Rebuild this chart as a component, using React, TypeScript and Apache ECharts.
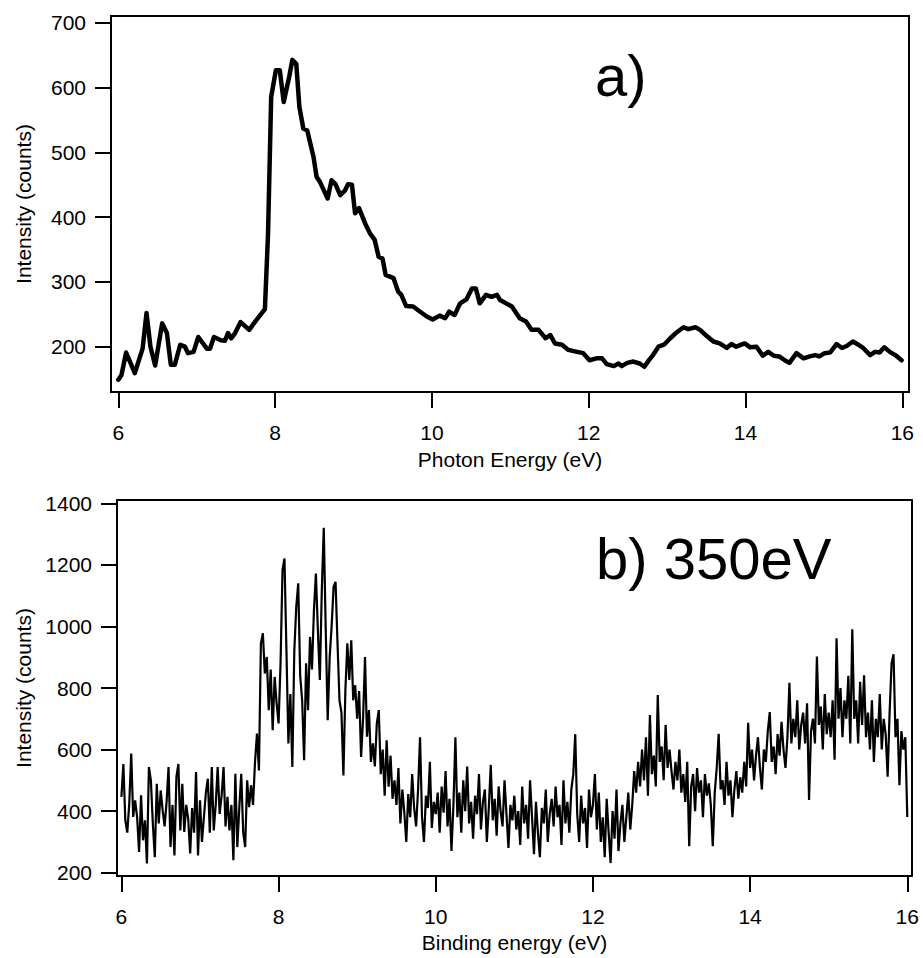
import React, { useEffect, useRef } from "react";
import * as echarts from "echarts";

const topEnergy = [
  6.0, 6.04, 6.1, 6.21, 6.31, 6.36, 6.41, 6.47, 6.56, 6.62, 6.67, 6.72, 6.79, 6.85, 6.89, 6.96,
  7.02, 7.13, 7.17, 7.22, 7.31, 7.36, 7.4, 7.44, 7.49, 7.56, 7.67, 7.76, 7.87, 7.91, 7.95,
  8.01, 8.06, 8.11, 8.18, 8.22, 8.27, 8.31, 8.36, 8.41, 8.49, 8.53, 8.57, 8.67, 8.72, 8.77, 8.83,
  8.89, 8.93, 8.98, 9.02, 9.07, 9.15, 9.21, 9.27, 9.32, 9.37, 9.41, 9.51, 9.57, 9.61, 9.67, 9.76,
  9.85, 9.93, 10.01, 10.1, 10.17, 10.22, 10.29, 10.36, 10.44, 10.51, 10.56, 10.61, 10.69, 10.76,
  10.83, 10.87, 11.02, 11.12, 11.2, 11.27, 11.36, 11.45, 11.51, 11.57, 11.66, 11.74, 11.85, 11.93,
  12.01, 12.1, 12.17, 12.23, 12.32, 12.38, 12.42, 12.49, 12.57, 12.65, 12.71, 12.76, 12.82, 12.89,
  12.96, 13.04, 13.12, 13.21, 13.27, 13.36, 13.42, 13.51, 13.59, 13.67, 13.76, 13.82, 13.88, 13.99,
  14.06, 14.14, 14.22, 14.29, 14.36, 14.43, 14.5, 14.56, 14.65, 14.74, 14.82, 14.89, 14.94, 15.01,
  15.08, 15.16, 15.23, 15.29, 15.37, 15.44, 15.5, 15.59, 15.65, 15.71, 15.77, 15.84, 15.91, 15.99,
];
const topIntensity = [
  149, 156, 191, 159, 197, 252, 200, 171, 236, 221, 172, 172, 203, 200, 190, 192,
  215, 197, 197, 215, 210, 209, 221, 213, 221, 238, 226, 241, 258, 375, 586,
  627, 627, 578, 617, 643, 637, 570, 537, 534, 493, 462, 455, 429, 457, 451, 434,
  441, 451, 450, 406, 414, 390, 375, 365, 339, 336, 311, 306, 285, 280, 263, 262,
  254, 247, 242, 248, 244, 254, 249, 267, 273, 290, 290, 267, 280, 277,
  280, 272, 262, 244, 239, 226, 226, 213, 218, 205, 203, 195, 192, 190,
  179, 182, 182, 173, 170, 174, 170, 175, 177, 174, 169, 178, 187, 200,
  203, 213, 222, 230, 227, 230, 226, 216, 208, 205, 198, 204, 200, 205,
  199, 200, 186, 192, 186, 185, 179, 175, 190, 182, 185, 187, 185, 190,
  191, 204, 198, 201, 208, 203, 198, 187, 192, 191, 199, 192, 187, 179,
];

const bottomStart = 6;
const bottomStep = 0.025;
const bottomIntensity = [
  446, 553, 370, 330, 424, 587, 381, 435, 380, 267, 451, 305, 370, 230, 543, 500, 360, 250, 489, 360,
  467, 402, 350, 430, 543, 283, 420, 256, 511, 553, 337, 489, 332, 420, 375, 262, 410, 330, 527, 256,
  435, 300, 380, 460, 505, 330, 543, 337, 420, 543, 391, 450, 543, 350, 446, 337, 420, 240, 521, 283,
  410, 521, 330, 283, 500, 413, 484, 420, 559, 652, 532, 945, 978, 847, 901, 728, 860, 663, 836, 750,
  685, 880, 1183, 1221, 923, 620, 780, 543, 920, 1064, 1140, 840, 760, 565, 880, 728, 966, 860, 1053, 1172,
  988, 826, 1118, 1321, 990, 695, 900, 1000, 1129, 1145, 945, 760, 720, 516, 793, 945, 826, 955, 760, 809,
  700, 790, 576, 700, 901, 642, 728, 560, 620, 545, 685, 728, 520, 600, 450, 630, 479, 580, 440, 500,
  420, 540, 360, 470, 395, 300, 455, 380, 520, 410, 350, 470, 640, 380, 300, 450, 410, 560, 345, 430,
  390, 460, 330, 480, 395, 530, 350, 440, 270, 420, 640, 380, 460, 330, 500, 400, 545, 360, 430, 310,
  450, 390, 520, 340, 430, 470, 300, 410, 550, 370, 440, 320, 480, 400, 350, 500, 390, 280, 420, 370,
  450, 340, 400, 290, 480, 360, 420, 310, 500, 380, 260, 430, 330, 250, 410, 360, 470, 300, 390, 440,
  350, 480, 380, 420, 290, 500, 360, 430, 330, 470, 520, 650, 390, 300, 450, 360, 410, 280, 470, 380,
  420, 520, 340, 460, 300, 380, 250, 440, 330, 231, 400, 310, 470, 270, 360, 420, 300, 380, 460, 340,
  420, 530, 460, 560, 480, 600, 500, 640, 450, 712, 520, 580, 480, 777, 560, 610, 500, 680, 540, 600,
  530, 470, 560, 500, 600, 460, 520, 430, 560, 286, 480, 520, 400, 540, 460, 500, 380, 520, 450, 490,
  420, 286, 460, 540, 651, 470, 500, 420, 560, 450, 500, 380, 470, 530, 440, 510, 460, 560, 480, 687,
  540, 600, 500, 580, 640, 540, 470, 600, 560, 660, 722, 560, 610, 520, 650, 580, 690, 600, 540, 640,
  817, 620, 700, 640, 760, 600, 680, 720, 620, 750, 436, 660, 700, 620, 902, 680, 740, 600, 780, 650,
  720, 640, 760, 567, 962, 700, 800, 640, 760, 700, 840, 620, 991, 700, 760, 620, 820, 680, 841, 640,
  720, 600, 760, 560, 700, 640, 780, 600, 700, 650, 512, 720, 880, 910, 640, 700, 484, 660, 600, 640,
  381,
];

const xTicks = [6, 8, 10, 12, 14, 16];
const topYTicks = [200, 300, 400, 500, 600, 700];
const bottomYTicks = [200, 400, 600, 800, 1000, 1200, 1400];

const FONT = "Liberation Sans, Arial, sans-serif";
const TICK_FS = 21;
const plain = (v: number) => String(v);

function xAxisCfg(gridIndex: number, min: number, max: number, name: string, nameGap: number) {
  return {
    type: "value",
    gridIndex,
    min,
    max,
    name,
    nameLocation: "middle",
    nameGap,
    nameTextStyle: { fontFamily: FONT, fontSize: 21, color: "#000" },
    axisLine: { show: true, onZero: false, lineStyle: { color: "#000", width: 2 } },
    axisTick: { show: true, inside: false, length: 16, customValues: xTicks, lineStyle: { color: "#000", width: 2 } },
    axisLabel: { show: true, customValues: xTicks, formatter: plain, margin: 30, fontFamily: FONT, fontSize: TICK_FS, color: "#000" },
    splitLine: { show: false },
  };
}

function yAxisCfg(gridIndex: number, min: number, max: number, ticks: number[], nameGap: number) {
  return {
    type: "value",
    gridIndex,
    min,
    max,
    name: "Intensity (counts)",
    nameLocation: "middle",
    nameRotate: 90,
    nameGap,
    nameTextStyle: { fontFamily: FONT, fontSize: 21, color: "#000" },
    axisLine: { show: true, onZero: false, lineStyle: { color: "#000", width: 2 } },
    axisTick: { show: true, inside: false, length: 16, customValues: ticks, lineStyle: { color: "#000", width: 2 } },
    axisLabel: { show: true, customValues: ticks, formatter: plain, margin: 25, fontFamily: FONT, fontSize: TICK_FS, color: "#000" },
    splitLine: { show: false },
  };
}

export default function App() {
  const ref = useRef<HTMLDivElement>(null);
  useEffect(() => {
    document.body.style.margin = "0";
    const chart = echarts.init(ref.current!, null, { renderer: "svg" });
    const topData = topEnergy.map((e, i) => [e, topIntensity[i]]);
    const bottomData = bottomIntensity.map((v, i) => [bottomStart + i * bottomStep, v]);
    chart.setOption({
      animation: false,
      backgroundColor: "#fff",
      grid: [
        { left: 111, top: 16, width: 798, height: 376, show: true, borderColor: "#000", borderWidth: 2, backgroundColor: "transparent" },
        { left: 117, top: 500, width: 795, height: 376, show: true, borderColor: "#000", borderWidth: 2, backgroundColor: "transparent" },
      ],
      xAxis: [
        xAxisCfg(0, 5.907, 16.085, "Photon Energy (eV)", 57),
        xAxisCfg(1, 5.944, 16.06, "Binding energy (eV)", 56),
      ],
      yAxis: [
        yAxisCfg(0, 130, 710.8, topYTicks, 77),
        yAxisCfg(1, 189, 1411, bottomYTicks, 83),
      ],
      series: [
        {
          type: "line",
          xAxisIndex: 0,
          yAxisIndex: 0,
          data: topData,
          showSymbol: false,
          silent: true,
          lineStyle: { color: "#000", width: 4.5, join: "round", cap: "round" },
        },
        {
          type: "line",
          xAxisIndex: 1,
          yAxisIndex: 1,
          data: bottomData,
          showSymbol: false,
          silent: true,
          lineStyle: { color: "#000", width: 2.2, join: "miter" },
        },
      ],
      graphic: [
        {
          type: "text",
          x: 595,
          y: 75,
          style: { text: "a)", fill: "#000", font: `58px ${FONT}`, verticalAlign: "middle", align: "left" },
        },
        {
          type: "text",
          x: 596,
          y: 558,
          style: { text: "b) 350eV", fill: "#000", font: `58px ${FONT}`, verticalAlign: "middle", align: "left" },
        },
      ],
    });
    return () => chart.dispose();
  }, []);
  return <div ref={ref} style={{ width: 923, height: 958 }} />;
}
